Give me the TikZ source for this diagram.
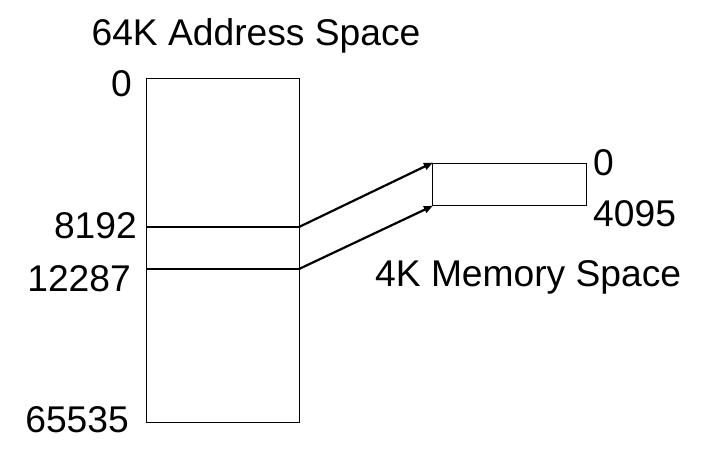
\documentclass[tikz,border=0pt]{standalone}
\usepackage{fontspec}
\setmainfont{Liberation Sans}
\usetikzlibrary{arrows.meta}
\begin{document}
\begin{tikzpicture}[x=1pt,y=-1pt,
  lbl/.style={inner sep=0pt,font=\fontsize{37.2}{40}\selectfont},
  boxline/.style={draw=black,line width=1.2pt},
  mapline/.style={draw=black,line width=2.2pt,-{Triangle[length=9pt,width=7pt]},shorten >=-1pt}]
\useasboundingbox (0,0) rectangle (717,466);
% big address box
\node[boxline,minimum width=153pt,minimum height=344pt,inner sep=0pt,anchor=north west] (big) at (146,78) {};
\coordinate (a1) at (146,227);
\coordinate (b1) at (299,227);
\coordinate (a2) at (146,269);
\coordinate (b2) at (299,269);
\draw[boxline] (a1) -- (b1);
\draw[boxline] (a2) -- (b2);
% small memory box
\node[boxline,minimum width=154pt,minimum height=42pt,inner sep=0pt,anchor=north west] (small) at (432,163) {};
\draw[mapline] (b1) -- (small.north west);
\draw[mapline] (b2) -- (small.south west);
% labels
\node[lbl,anchor=base] (title) at (256,45) {64K Address Space};
\node[lbl,anchor=base east] (l0) at (132,96) {0};
\node[lbl,anchor=base east] (l8192) at (137,238) {8192};
\node[lbl,anchor=base east] (l12287) at (131,291) {12287};
\node[lbl,anchor=base east] (l65535) at (129,432) {65535};
\node[lbl,anchor=base west] (r0) at (593,175) {0};
\node[lbl,anchor=base west] (r4095) at (593,226) {4095};
\node[lbl,anchor=base west] (mem) at (375,286) {4K Memory Space};
\end{tikzpicture}
\end{document}
